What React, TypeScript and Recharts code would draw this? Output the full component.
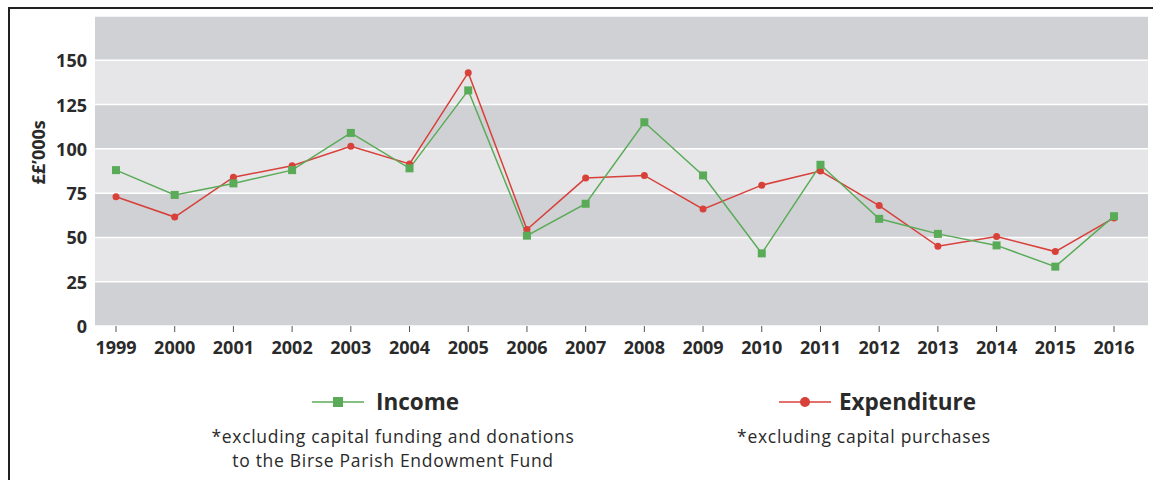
import React from "react";
import {
  LineChart,
  Line,
  XAxis,
  YAxis,
  CartesianGrid,
  Legend,
} from "recharts";

// Parish finances, £'000s per year
const YEARS = [
  "1999", "2000", "2001", "2002", "2003", "2004", "2005", "2006", "2007",
  "2008", "2009", "2010", "2011", "2012", "2013", "2014", "2015", "2016",
];
const INCOME = [88, 74, 80.5, 88, 109, 89, 133, 51, 69, 115, 85, 41, 91, 60.5, 52, 45.5, 33.5, 62];
const EXPENDITURE = [73, 61.5, 84, 90.5, 101.5, 91.5, 143, 54.5, 83.5, 85, 66, 79.5, 87.5, 68, 45, 50.5, 42, 61];

// Band edges of the grid; the top edge carries no label
const Y_TICKS = [0, 25, 50, 75, 100, 125, 150, 175];
const Y_MAX = 175;

const SERIES_NAMES = { income: "Income", expenditure: "Expenditure" };
const INCOME_NOTE = ["*excluding capital funding and donations", "to the Birse Parish Endowment Fund"];
const EXPENDITURE_NOTE = ["*excluding capital purchases"];
const Y_LABEL = "££’000s";

const GREEN = "#5aab58";
const RED = "#d8403a";
const BAND_DARK = "#d0d1d5";
const BAND_LIGHT = "#e6e6e8";
const TEXT = "#2a2a2a";
const FONT = "'Open Sans', 'Noto Sans', sans-serif";

const data = YEARS.map((year, i) => ({
  year,
  income: INCOME[i],
  expenditure: EXPENDITURE[i],
}));

const SquareDot = (props: any) => {
  const { cx, cy, index } = props;
  if (cx == null || cy == null) return <g key={`sq-${index}`} />;
  return (
    <rect
      key={`sq-${index}`}
      x={cx - 4}
      y={cy - 4}
      width={8}
      height={8}
      fill={GREEN}
    />
  );
};

const YTick = (props: any) => {
  const { x, y, payload } = props;
  if (payload.value === Y_MAX) return <g />;
  return (
    <text
      x={x}
      y={y}
      textAnchor="end"
      dominantBaseline="central"
      fontFamily={FONT}
      fontWeight={700}
      fontSize={18}
      fill={TEXT}
    >
      {payload.value}
    </text>
  );
};

const YAxisTitle = (props: any) => {
  const { viewBox } = props;
  const cx = viewBox.x + 3;
  const cy = viewBox.y + viewBox.height * 0.44;
  return (
    <text
      x={cx}
      y={cy}
      transform={`rotate(-90, ${cx}, ${cy})`}
      textAnchor="middle"
      dominantBaseline="central"
      fontFamily={FONT}
      fontWeight={700}
      fontSize={18}
      fill={TEXT}
    >
      {Y_LABEL}
    </text>
  );
};

// Legend layout: icon row start, icon-to-name gap and note centre for each series
const LEGEND_LAYOUT: Record<string, { rowLeft: number; gap: number; noteCenter: number; notes: string[] }> = {
  income: { rowLeft: 312, gap: 12, noteCenter: 393, notes: INCOME_NOTE },
  expenditure: { rowLeft: 779, gap: 8, noteCenter: 864, notes: EXPENDITURE_NOTE },
};

const LegendIcon = ({ dataKey, color }: { dataKey: string; color: string }) => (
  <svg width={52} height={14} style={{ display: "block" }}>
    <line x1={0} y1={7} x2={52} y2={7} stroke={color} strokeWidth={1.5} />
    {dataKey === "income" ? (
      <rect x={21} y={2} width={10} height={10} fill={color} />
    ) : (
      <circle cx={26} cy={7} r={5} fill={color} />
    )}
  </svg>
);

const ChartLegend = (props: any) => {
  const { payload } = props;
  return (
    <div style={{ position: "relative", width: 1153, height: 92 }}>
      {(payload || []).map((entry: any) => {
        const key = entry.dataKey as string;
        const layout = LEGEND_LAYOUT[key];
        if (!layout) return null;
        return (
          <React.Fragment key={key}>
            <div
              style={{
                position: "absolute",
                left: layout.rowLeft,
                top: 0,
                height: 28,
                display: "flex",
                alignItems: "center",
                gap: layout.gap,
              }}
            >
              <LegendIcon dataKey={key} color={entry.color} />
              <span
                style={{
                  fontFamily: FONT,
                  fontWeight: 700,
                  fontSize: 22.5,
                  color: TEXT,
                  lineHeight: "28px",
                  whiteSpace: "nowrap",
                }}
              >
                {entry.value}
              </span>
            </div>
            <div
              style={{
                position: "absolute",
                left: layout.noteCenter - 250,
                width: 500,
                top: 36,
                textAlign: "center",
                fontFamily: FONT,
                fontSize: 17.5,
                letterSpacing: 0.7,
                lineHeight: "24px",
                color: TEXT,
              }}
            >
              {layout.notes.map((line) => (
                <div key={line} style={{ whiteSpace: "nowrap" }}>
                  {line}
                </div>
              ))}
            </div>
          </React.Fragment>
        );
      })}
    </div>
  );
};

export default function App() {
  return (
    <div
      style={{
        position: "absolute",
        left: 0,
        top: 0,
        width: 1153,
        height: 480,
        background: "#fff",
        overflow: "hidden",
      }}
    >
      {/* frame edges */}
      <div style={{ position: "absolute", left: 8, top: 7, width: 1145, height: 2, background: "#231f20" }} />
      <div style={{ position: "absolute", left: 8, top: 7, width: 2, height: 473, background: "#231f20" }} />
      <div style={{ position: "absolute", left: 0, top: 0 }}>
        <LineChart
          width={1153}
          height={480}
          data={data}
          margin={{ top: 16, right: 5, left: 35, bottom: 124 }}
        >
          <CartesianGrid
            vertical={false}
            stroke="#ffffff"
            strokeWidth={1.5}
            horizontalFill={[BAND_DARK, BAND_LIGHT]}
            fillOpacity={1}
          />
          <XAxis
            dataKey="year"
            axisLine={false}
            tickLine={{ stroke: "#555", strokeWidth: 1 }}
            tickSize={6}
            tickMargin={9}
            height={30}
            interval={0}
            padding={{ left: 21, right: 34 }}
            tick={{ fontFamily: FONT, fontWeight: 700, fontSize: 18, fill: TEXT }}
          />
          <YAxis
            type="number"
            domain={[0, Y_MAX]}
            ticks={Y_TICKS}
            interval={0}
            width={60}
            axisLine={false}
            tickLine={false}
            tickMargin={2}
            tick={<YTick />}
            label={<YAxisTitle />}
          />
          <Line
            type="linear"
            dataKey="expenditure"
            name={SERIES_NAMES.expenditure}
            stroke={RED}
            strokeWidth={1.5}
            dot={{ r: 3.5, fill: RED, stroke: RED, strokeWidth: 0 }}
            activeDot={false}
            isAnimationActive={false}
          />
          <Line
            type="linear"
            dataKey="income"
            name={SERIES_NAMES.income}
            stroke={GREEN}
            strokeWidth={1.5}
            dot={<SquareDot />}
            activeDot={false}
            isAnimationActive={false}
          />
          <Legend
            layout="horizontal"
            verticalAlign="middle"
            align="center"
            wrapperStyle={{ left: 0, top: 388, width: 1153, height: 92 }}
            content={<ChartLegend />}
          />
        </LineChart>
      </div>
    </div>
  );
}
